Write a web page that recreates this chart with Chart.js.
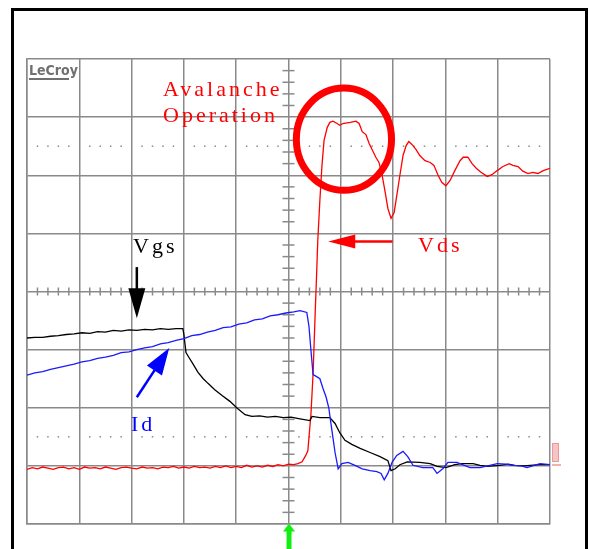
<!DOCTYPE html>
<html>
<head>
<meta charset="utf-8">
<script src="https://cdn.jsdelivr.net/npm/chart.js@4/dist/chart.umd.min.js"></script>
<style>
  html, body { margin:0; padding:0; background:#fff; }
  body { width:589px; height:549px; position:relative; overflow:hidden; }
  #wrap { position:absolute; left:0; top:0; width:589px; height:549px; }
  #frame { position:absolute; left:11px; top:8px; width:577px; height:600px; box-sizing:border-box; border:3px solid #000; pointer-events:none; }
  .lbl { position:absolute; font-family:"Liberation Serif","Times New Roman",serif; font-size:22px; line-height:22px; letter-spacing:3px; white-space:nowrap; }
  #logo { position:absolute; left:29px; top:63px; font-family:"DejaVu Sans Condensed","DejaVu Sans",sans-serif; font-stretch:condensed; font-weight:bold; font-size:14px; line-height:14px; color:#707070; }
  #logoBar { position:absolute; left:29px; top:78px; width:40px; height:2px; background:#707070; }
  #marker { position:absolute; left:552px; top:443px; width:7px; height:19px; background:#f6c4c4; border:1px solid #e89a9a; box-sizing:border-box; }
  #markerLine { position:absolute; left:552px; top:464px; width:9px; height:2px; background:#f2b0b0; }
</style>
</head>
<body>
<div id="wrap"><canvas id="c" width="589" height="549"></canvas></div>
<div id="frame"></div>
<div id="logo">LeCroy</div>
<div id="logoBar"></div>
<div class="lbl" style="left:163px; top:78px; color:#ff0000;">Avalanche</div>
<div class="lbl" style="left:163px; top:104px; color:#ff0000;">Operation</div>
<div class="lbl" style="left:133px; top:235px; color:#000;">Vgs</div>
<div class="lbl" style="left:418px; top:234px; color:#ff0000;">Vds</div>
<div class="lbl" style="left:131px; top:413px; color:#0000ff;">Id</div>
<div id="marker"></div>
<div id="markerLine"></div>
<script>
// ---- data (x in horizontal divisions 0..10, y in vertical divisions -4..4) ----
const vdsT = [0,0.1,0.2,0.3,0.4,0.5,0.6,0.7,0.8,0.9,
  1.0,1.1,1.2,1.3,1.4,1.5,1.6,1.7,1.8,1.9,
  2.0,2.1,2.2,2.3,2.4,2.5,2.6,2.7,2.8,2.9,
  3.0,3.1,3.2,3.3,3.4,3.5,3.6,3.7,3.8,3.9,
  4.0,4.1,4.2,4.3,4.4,4.5,4.6,4.7,4.8,4.9,
  5.0,5.1,
  5.18,5.26,5.33,5.37,5.43,5.47,5.51,5.54,5.56,5.60,
  5.64,5.68,5.74,5.79,5.85,5.93,5.98,6.04,6.18,6.29,
  6.35,6.41,6.48,6.54,6.60,6.67,6.73,6.79,6.85,6.90,
  6.96,7.02,7.07,7.13,7.19,7.25,7.30,7.36,7.44,7.51,
  7.61,7.71,7.78,7.86,7.93,8.01,8.09,8.18,8.28,8.34,
  8.43,8.51,8.59,8.68,8.80,8.89,8.99,9.10,9.22,9.29,
  9.39,9.48,9.58,9.67,9.77,9.87,10.0];
const vdsV = [-3.06,-3.03,-3.05,-3.02,-3.04,-3.06,-3.03,-3.02,-3.05,-3.03,
  -3.06,-3.02,-3.04,-3.03,-3.05,-3.02,-3.04,-3.06,-3.03,-3.02,
  -3.04,-3.05,-3.02,-3.04,-3.03,-3.05,-3.02,-3.03,-3.01,-3.04,
  -3.02,-3.04,-3.01,-3.03,-3.02,-3.04,-3.01,-3.03,-3.00,-3.03,
  -3.01,-3.03,-2.99,-3.02,-3.00,-3.02,-2.99,-3.01,-2.98,-3.00,
  -2.97,-2.98,
  -2.96,-2.93,-2.82,-2.74,-2.10,-1.41,-0.38,0.36,0.88,1.57,
  2.17,2.60,2.82,2.91,2.93,2.89,2.86,2.89,2.91,2.93,
  2.89,2.75,2.70,2.55,2.44,2.31,2.22,2.00,1.70,1.43,
  1.26,1.36,1.65,2.00,2.34,2.51,2.58,2.53,2.44,2.34,
  2.25,2.22,2.17,2.00,1.88,1.82,1.91,2.08,2.25,2.31,
  2.31,2.20,2.12,2.05,1.98,2.01,2.08,2.15,2.20,2.17,
  2.15,2.07,2.03,2.05,2.03,2.08,2.12];

const vgsT = [0,0.15,0.3,0.45,0.6,0.75,0.9,1.05,1.2,1.35,
  1.5,1.65,1.8,1.95,2.1,2.25,2.4,2.55,2.7,2.85,
  2.98,3.00,3.04,3.10,3.17,3.27,3.37,3.46,3.59,3.73,
  3.88,4.02,4.17,
  4.30,4.45,4.60,4.75,4.90,5.05,5.22,5.41,5.45,5.60,5.79,
  5.89,5.98,6.08,6.21,6.37,6.56,6.75,6.90,6.96,7.04,7.13,7.27,
  7.51,7.71,7.84,8.01,8.18,8.32,8.53,8.66,8.80,9.04,
  9.20,9.33,9.50,9.62,9.80,10.0];
const vgsV = [-0.80,-0.79,-0.79,-0.77,-0.76,-0.74,-0.73,-0.71,-0.72,-0.69,
  -0.70,-0.67,-0.68,-0.66,-0.67,-0.65,-0.66,-0.64,-0.65,-0.64,
  -0.64,-0.74,-1.05,-1.14,-1.24,-1.39,-1.50,-1.58,-1.69,-1.79,
  -1.89,-2.01,-2.12,
  -2.15,-2.14,-2.16,-2.15,-2.17,-2.16,-2.19,-2.22,-2.15,-2.17,-2.17,
  -2.27,-2.43,-2.56,-2.63,-2.70,-2.77,-2.84,-2.91,-3.08,-3.05,-2.98,-2.93,
  -2.94,-2.96,-3.01,-3.03,-2.98,-2.96,-2.96,-2.99,-3.01,-2.99,
  -2.97,-2.99,-3.00,-2.99,-2.98,-2.98];

const idT = [0,0.15,0.3,0.45,0.6,0.75,0.9,1.05,1.2,1.35,
  1.5,1.65,1.8,1.95,2.1,2.25,2.4,2.55,2.7,2.85,
  3.0,3.15,3.3,3.45,3.6,3.75,3.9,4.05,4.2,4.35,
  4.5,4.65,4.8,4.95,5.1,
  5.22,5.35,5.39,5.43,5.47,5.53,5.60,5.66,5.72,5.77,5.83,5.89,5.95,
  6.02,6.14,6.27,6.41,6.56,6.69,6.77,6.83,6.90,6.98,7.07,7.19,7.28,7.38,
  7.57,7.76,7.84,7.95,8.05,8.22,8.47,8.66,8.85,8.99,9.15,9.29,9.45,9.56,9.70,9.81,10.0];
const idV = [-1.44,-1.40,-1.38,-1.34,-1.31,-1.28,-1.25,-1.21,-1.19,-1.15,
  -1.13,-1.10,-1.05,-1.04,-1.00,-0.97,-0.95,-0.90,-0.88,-0.84,
  -0.81,-0.76,-0.74,-0.70,-0.67,-0.62,-0.61,-0.56,-0.54,-0.49,
  -0.47,-0.42,-0.40,-0.37,-0.35,
  -0.33,-0.36,-0.59,-1.02,-1.43,-1.46,-1.50,-1.67,-1.82,-2.00,-2.39,-2.77,-3.05,
  -2.96,-2.94,-2.99,-3.05,-3.08,-3.10,-3.13,-3.24,-3.13,-2.94,-2.82,-2.75,-2.84,-2.99,
  -3.03,-3.03,-3.13,-3.05,-2.94,-2.94,-3.03,-3.03,-2.99,-2.96,-2.97,-2.99,-3.00,-3.03,-2.99,-2.96,-2.98];

const xTicks = [0,1,2,3,4,5,6,7,8,9,10];
const yTicks = [-4,-3,-2,-1,0,1,2,3,4];

// annotation anchors in division units
const circleAnno = { cx:6.06, cy:2.62, rx:0.91, ry:0.88 };
const arrowsAnno = [
  { from:[2.10, 0.42], to:[2.10,-0.46], color:'#000000', w:2.5, hl:30, hw:8.5 },
  { from:[6.99, 0.86], to:[5.76, 0.86], color:'#ff0000', w:2.5, hl:27, hw:7 },
  { from:[2.10,-1.82], to:[2.72,-0.97], color:'#0000ff', w:2.5, hl:27, hw:9 },
  { from:[5.01,-4.45], to:[5.01,-3.99], color:'#11ee11', w:5, hl:8, hw:6 }
];

const toPts = (t, v) => t.map((x, i) => ({ x: x, y: v[i] }));

const GRID = '#8a8a8a';

const scopePlugin = {
  id: 'scope',
  beforeDatasetsDraw(chart) {
    const { ctx, scales: { x, y } } = chart;
    ctx.save();
    ctx.strokeStyle = GRID;
    ctx.lineWidth = 1.5;
    const cx = x.getPixelForValue(5), cy = y.getPixelForValue(0);
    // minor ticks on vertical centre line
    for (let k = -20; k <= 20; k++) {
      if (k % 5 === 0) continue;
      const py = y.getPixelForValue(k / 5);
      ctx.beginPath(); ctx.moveTo(cx - 6, py); ctx.lineTo(cx + 6, py); ctx.stroke();
    }
    // minor ticks on horizontal centre line
    for (let k = 0; k <= 50; k++) {
      if (k % 5 === 0) continue;
      const px = x.getPixelForValue(k / 5);
      ctx.beginPath(); ctx.moveTo(px, cy - 4); ctx.lineTo(px, cy + 4); ctx.stroke();
    }
    // dotted reference lines
    ctx.fillStyle = '#8a8a8a';
    [2.5, -2.5].forEach(v => {
      const py = y.getPixelForValue(v);
      for (let k = 0; k <= 50; k++) {
        if (k % 5 === 0) continue;
        const px = x.getPixelForValue(k / 5);
        ctx.fillRect(px - 0.75, py - 0.75, 1.5, 1.5);
      }
    });
    ctx.restore();
  },
  afterDraw(chart) {
    const { ctx, scales: { x, y } } = chart;
    ctx.save();
    // circle
    ctx.strokeStyle = '#ff0000';
    ctx.lineWidth = 7;
    ctx.beginPath();
    const ccx = x.getPixelForValue(circleAnno.cx), ccy = y.getPixelForValue(circleAnno.cy);
    const rx = x.getPixelForValue(circleAnno.cx + circleAnno.rx) - ccx;
    const ry = ccy - y.getPixelForValue(circleAnno.cy + circleAnno.ry);
    ctx.ellipse(ccx, ccy, rx, ry, 0, 0, Math.PI * 2);
    ctx.stroke();
    // arrows
    arrowsAnno.forEach(a => {
      const x0 = x.getPixelForValue(a.from[0]), y0 = y.getPixelForValue(a.from[1]);
      const x1 = x.getPixelForValue(a.to[0]), y1 = y.getPixelForValue(a.to[1]);
      const ang = Math.atan2(y1 - y0, x1 - x0);
      const bx = x1 - a.hl * Math.cos(ang), by = y1 - a.hl * Math.sin(ang);
      ctx.strokeStyle = a.color; ctx.fillStyle = a.color; ctx.lineWidth = a.w;
      ctx.beginPath(); ctx.moveTo(x0, y0); ctx.lineTo(bx + Math.cos(ang), by + Math.sin(ang)); ctx.stroke();
      ctx.beginPath();
      ctx.moveTo(x1, y1);
      ctx.lineTo(bx + a.hw * Math.sin(ang), by - a.hw * Math.cos(ang));
      ctx.lineTo(bx - a.hw * Math.sin(ang), by + a.hw * Math.cos(ang));
      ctx.closePath(); ctx.fill();
    });
    ctx.restore();
  }
};

new Chart(document.getElementById('c'), {
  type: 'line',
  data: {
    datasets: [
      { label: 'Id', data: toPts(idT, idV), borderColor: '#1a1aff', borderWidth: 1.3 },
      { label: 'Vgs', data: toPts(vgsT, vgsV), borderColor: '#000000', borderWidth: 1.3 },
      { label: 'Vds', data: toPts(vdsT, vdsV), borderColor: '#ff0000', borderWidth: 1.3 }
    ]
  },
  options: {
    responsive: false,
    animation: false,
    parsing: true,
    elements: { point: { radius: 0 }, line: { tension: 0 } },
    layout: { padding: { left: 27, top: 59, right: 39, bottom: 25 } },
    plugins: { legend: { display: false }, tooltip: { enabled: false } },
    scales: {
      x: {
        type: 'linear', min: 0, max: 10,
        afterBuildTicks: s => { s.ticks = xTicks.map(v => ({ value: v })); },
        ticks: { display: false },
        grid: { color: GRID, lineWidth: 1.5, drawTicks: false },
        border: { display: true, color: GRID, width: 1.5 }
      },
      y: {
        type: 'linear', min: -4, max: 4,
        afterBuildTicks: s => { s.ticks = yTicks.map(v => ({ value: v })); },
        ticks: { display: false },
        grid: { color: GRID, lineWidth: 1.5, drawTicks: false },
        border: { display: true, color: GRID, width: 1.5 }
      }
    }
  },
  plugins: [scopePlugin]
});
</script>
</body>
</html>
